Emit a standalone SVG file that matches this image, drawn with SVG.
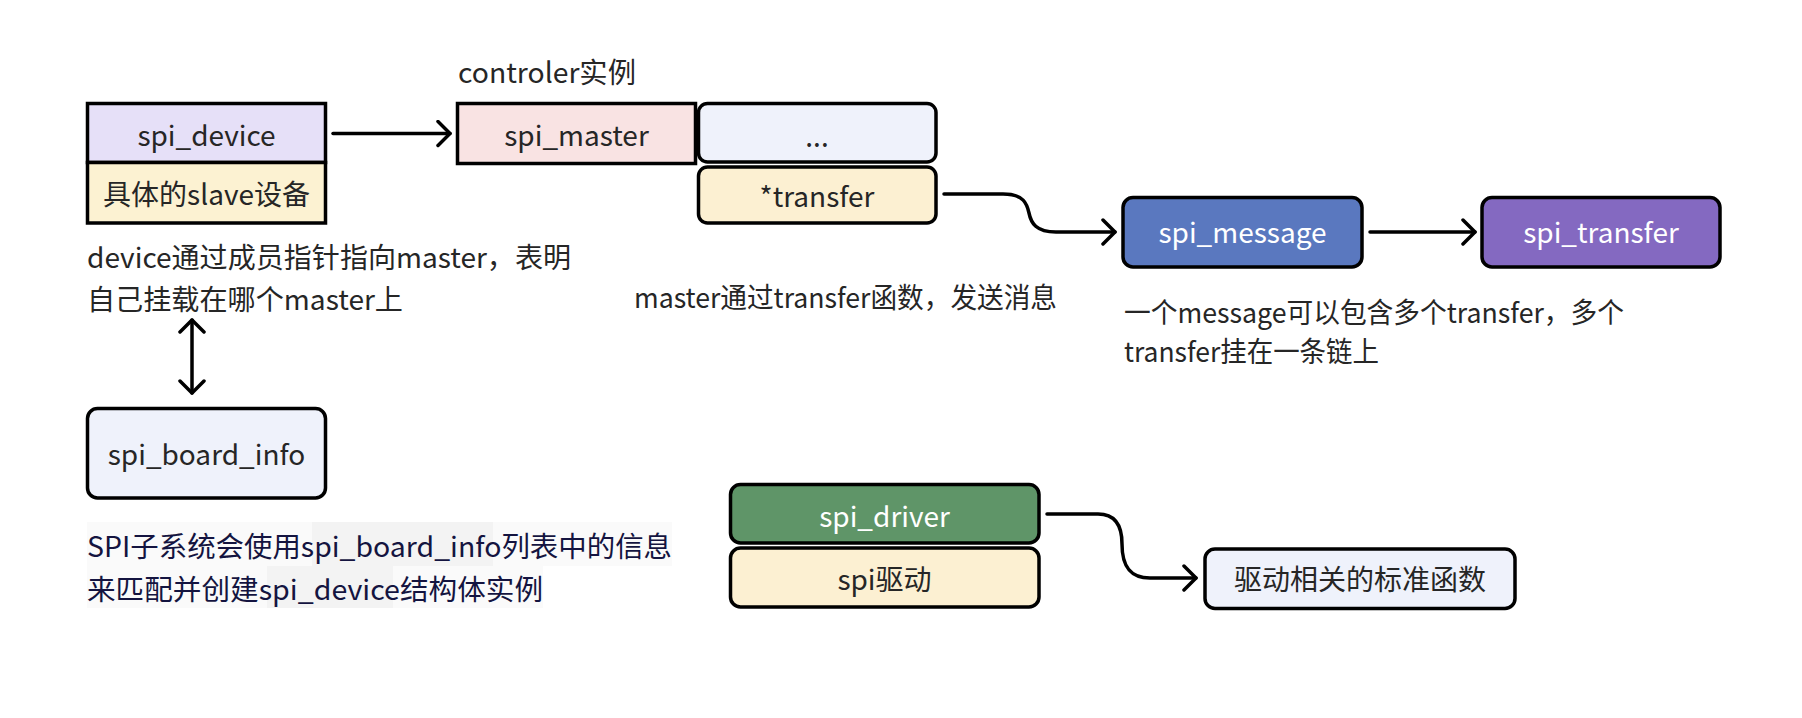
<svg xmlns="http://www.w3.org/2000/svg" width="1802" height="718" viewBox="0 0 1802 718">
<defs>
<style>
.t{font-family:"Noto Sans CJK SC","Noto Sans",sans-serif;font-size:28px;fill:#262626}
.c{text-anchor:middle}
.w{fill:#ffffff}
.n{fill:#141440}
.box{stroke:#000;stroke-width:3.5}
.ln{fill:none;stroke:#000;stroke-width:3.5;stroke-linecap:round;stroke-linejoin:round}
</style>
<marker id="ah" viewBox="0 0 16 28" refX="14" refY="14" markerWidth="16" markerHeight="28" markerUnits="userSpaceOnUse" orient="auto-start-reverse">
<path d="M2,2 L14,14 L2,26" fill="none" stroke="#000" stroke-width="3.5" stroke-linecap="round" stroke-linejoin="round"/>
</marker>
</defs>
<rect width="1802" height="718" fill="#ffffff"/>

<g id="connectors">
<path class="ln" d="M333,133.5 L450,133.5" marker-end="url(#ah)"/>
<path class="ln" d="M944,194 L1003,194 C1024,194 1027,204 1029,213 C1031,223 1036,232 1056,232 L1115,232" marker-end="url(#ah)"/>
<path class="ln" d="M1370,232 L1475,232" marker-end="url(#ah)"/>
<path class="ln" d="M192,320 L192,393" marker-start="url(#ah)" marker-end="url(#ah)"/>
<path class="ln" d="M1047,514 L1098,514 C1116,514 1122,526 1122,544 C1122,566 1130,578 1150,578 L1196,578" marker-end="url(#ah)"/>
</g>

<g id="spi_device">
<rect class="box" x="87.5" y="103.5" width="238" height="59" fill="#e6e0f8"/>
<text class="t c" x="206.5" y="146">spi_device</text>
</g>
<g id="slave">
<rect class="box" x="87.5" y="162.5" width="238" height="60.5" fill="#fcf2d2"/>
<text class="t c" x="206.5" y="205">具体的slave设备</text>
</g>

<g id="controler_label">
<text class="t" x="458" y="83" textLength="178" lengthAdjust="spacingAndGlyphs">controler实例</text>
</g>

<g id="spi_master">
<rect class="box" x="457.5" y="103.5" width="238" height="60" fill="#f9e3e3"/>
<text class="t c" x="576.5" y="146">spi_master</text>
</g>
<g id="dots">
<rect class="box" x="698.5" y="103.5" width="237.5" height="58.5" rx="9" fill="#eff2fb"/>
<text class="t c" x="817" y="147">...</text>
</g>
<g id="transfer_ptr">
<rect class="box" x="698.5" y="167" width="237.5" height="56" rx="9" fill="#fcf0d2"/>
<text class="t c" x="817" y="207">*transfer</text>
</g>

<g id="spi_message">
<rect class="box" x="1123" y="197.5" width="239" height="69.5" rx="10" fill="#5a78bf"/>
<text class="t c w" x="1242.5" y="243">spi_message</text>
</g>
<g id="spi_transfer">
<rect class="box" x="1482" y="197.5" width="238" height="69.5" rx="10" fill="#8469c1"/>
<text class="t c w" x="1601" y="243">spi_transfer</text>
</g>

<g id="note_device">
<text class="t" x="87" y="268" textLength="484" lengthAdjust="spacingAndGlyphs">device通过成员指针指向master，表明</text>
<text class="t" x="87" y="310" textLength="316" lengthAdjust="spacingAndGlyphs">自己挂载在哪个master上</text>
</g>
<g id="note_master">
<text class="t" x="634" y="308" textLength="423" lengthAdjust="spacingAndGlyphs">master通过transfer函数，发送消息</text>
</g>
<g id="note_message">
<text class="t" x="1124" y="323" textLength="500" lengthAdjust="spacingAndGlyphs">一个message可以包含多个transfer，多个</text>
<text class="t" x="1124" y="362" textLength="255" lengthAdjust="spacingAndGlyphs">transfer挂在一条链上</text>
</g>

<g id="spi_board_info">
<rect class="box" x="87.5" y="408.5" width="238" height="89.5" rx="10" fill="#eff2fb"/>
<text class="t c" x="206.5" y="465">spi_board_info</text>
</g>

<g id="note_board">
<rect x="87" y="522" width="585" height="44" fill="#fafafa"/>
<rect x="312" y="522" width="181" height="44" fill="#f3f3f3"/>
<rect x="87" y="566" width="456" height="42" fill="#fafafa"/>
<rect x="267" y="566" width="126" height="42" fill="#f3f3f3"/>
<text class="t n" x="87" y="557" textLength="585" lengthAdjust="spacingAndGlyphs">SPI子系统会使用spi_board_info列表中的信息</text>
<text class="t n" x="87" y="600" textLength="456" lengthAdjust="spacingAndGlyphs">来匹配并创建spi_device结构体实例</text>
</g>

<g id="spi_driver">
<rect class="box" x="730.5" y="484.5" width="308.5" height="58.5" rx="10" fill="#5f9568"/>
<text class="t c w" x="884.5" y="527">spi_driver</text>
</g>
<g id="spi_drv_cn">
<rect class="box" x="730.5" y="548" width="308.5" height="59" rx="10" fill="#fcf0d2"/>
<text class="t c" x="884.5" y="590">spi驱动</text>
</g>
<g id="std_funcs">
<rect class="box" x="1205" y="549" width="310" height="59.5" rx="10" fill="#eff2fb"/>
<text class="t c" x="1360" y="590">驱动相关的标准函数</text>
</g>
</svg>
